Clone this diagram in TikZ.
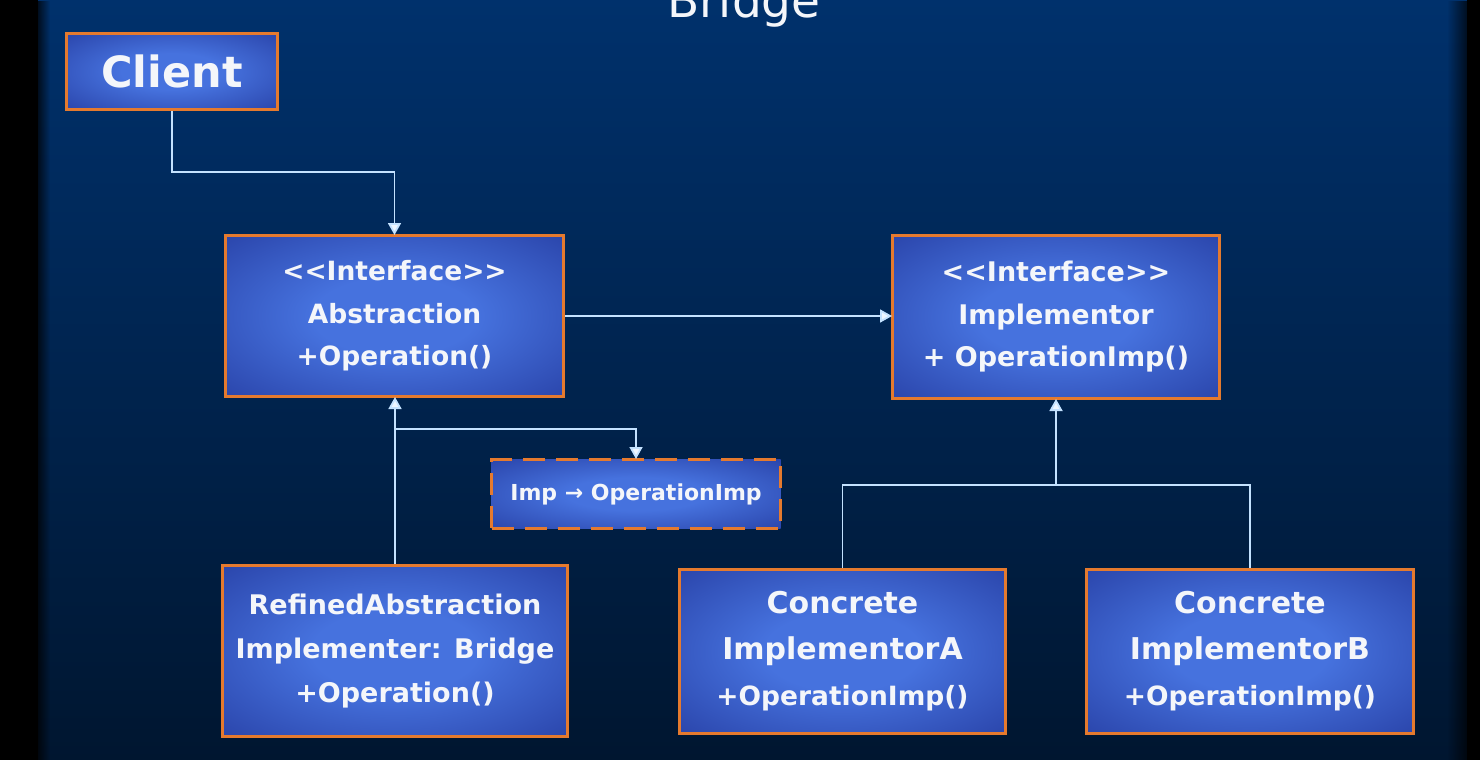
\documentclass[tikz,border=0pt]{standalone}
\usepackage{fontspec}
\setmainfont{DejaVu Sans}
\usetikzlibrary{arrows.meta,calc,fadings}
\definecolor{bgtop}{HTML}{00316C}
\definecolor{bgbot}{HTML}{001630}
\definecolor{boxin}{HTML}{4672DE}
\definecolor{boxout}{HTML}{1A2A8C}
\definecolor{bord}{HTML}{E57A2E}
\definecolor{connc}{HTML}{C4E2FF}
\definecolor{tipc}{HTML}{EEF6FF}
\definecolor{txt}{HTML}{F4F6FA}
\pgfdeclareradialshading{boxshade}{\pgfpoint{0bp}{0bp}}{color(0bp)=(boxin); color(12bp)=(boxin); color(50bp)=(boxout)}
\tikzset{
  umlbox/.style={rectangle, draw=bord, line width=3pt, shade, shading=boxshade,
    text=txt, align=center, inner sep=0pt},
  conn/.style={draw=connc, line width=1.8pt},
  arr/.style={conn, -{Triangle[width=13pt,length=12pt,fill=tipc]}, shorten >=-1pt}
}
\begin{document}
\begin{tikzpicture}[x=1pt,y=-1pt]
\useasboundingbox (0,0) rectangle (1480,760);
\clip (0,0) rectangle (1480,760);
% background
\shade[top color=bgtop, bottom color=bgbot] (0,0) rectangle (1480,760);
\fill[black] (0,0) rectangle (38,760);
\fill[black, path fading=east, opacity=0.7] (38,0) rectangle (50,760);
\fill[black] (1467,0) rectangle (1480,760);
\fill[black, path fading=west, opacity=0.7] (1447,0) rectangle (1467,760);
% title
\node[font=\fontsize{47}{50}\selectfont, text=txt, anchor=base, inner sep=0pt] (title) at (744,18) {Bridge};
% boxes
\node[umlbox, minimum width=211pt, minimum height=76pt, font=\bfseries\fontsize{43}{48}\selectfont] (client) at (172,71.5) {Client};
\node[umlbox, minimum width=338pt, minimum height=161pt, font=\bfseries\fontsize{26.5}{42.5}\selectfont] (abs) at (394.5,316) {<{}<Interface>{}>\\Abstraction\\+Operation()};
\node[umlbox, minimum width=327pt, minimum height=163pt, font=\bfseries\fontsize{27}{42.5}\selectfont] (impl) at (1056,317) {<{}<Interface>{}>\\Implementor\\+ OperationImp()};
\node[umlbox, dashed, dash pattern=on 22pt off 11pt, minimum width=289pt, minimum height=69pt, font=\bfseries\fontsize{22}{26}\selectfont] (impbox) at (636,494) {Imp → OperationImp};
\node[umlbox, minimum width=345pt, minimum height=171pt, font=\bfseries\fontsize{27}{44}\selectfont] (refined) at (395,651) {RefinedAbstraction\\Implementer: Bridge\\+Operation()};
\node[umlbox, minimum width=326pt, minimum height=164pt, font=\bfseries\fontsize{30}{46}\selectfont] (conca) at (842.5,651.5) {Concrete\\ImplementorA\\{\fontsize{26.5}{46}\selectfont +OperationImp()}};
\node[umlbox, minimum width=327pt, minimum height=164pt, font=\bfseries\fontsize{30}{46}\selectfont] (concb) at (1250,651.5) {Concrete\\ImplementorB\\{\fontsize{26.5}{46}\selectfont +OperationImp()}};
% connectors
\draw[arr] (client.south) -- ++(0,61) -| (abs.north);
\draw[arr] (abs.east) -- (abs.east -| impl.west);
\draw[arr] (refined.north) -- (refined.north |- abs.south);
\coordinate (branch) at ($(refined.north |- abs.south)+(0,31)$);
\draw[arr] (branch) -| (impbox.north);
\coordinate (join) at ($(impl.south)+(0,85)$);
\draw[arr] (join) -- (impl.south);
\draw[conn] (conca.north) |- (join) -| (concb.north);
\end{tikzpicture}
\end{document}
